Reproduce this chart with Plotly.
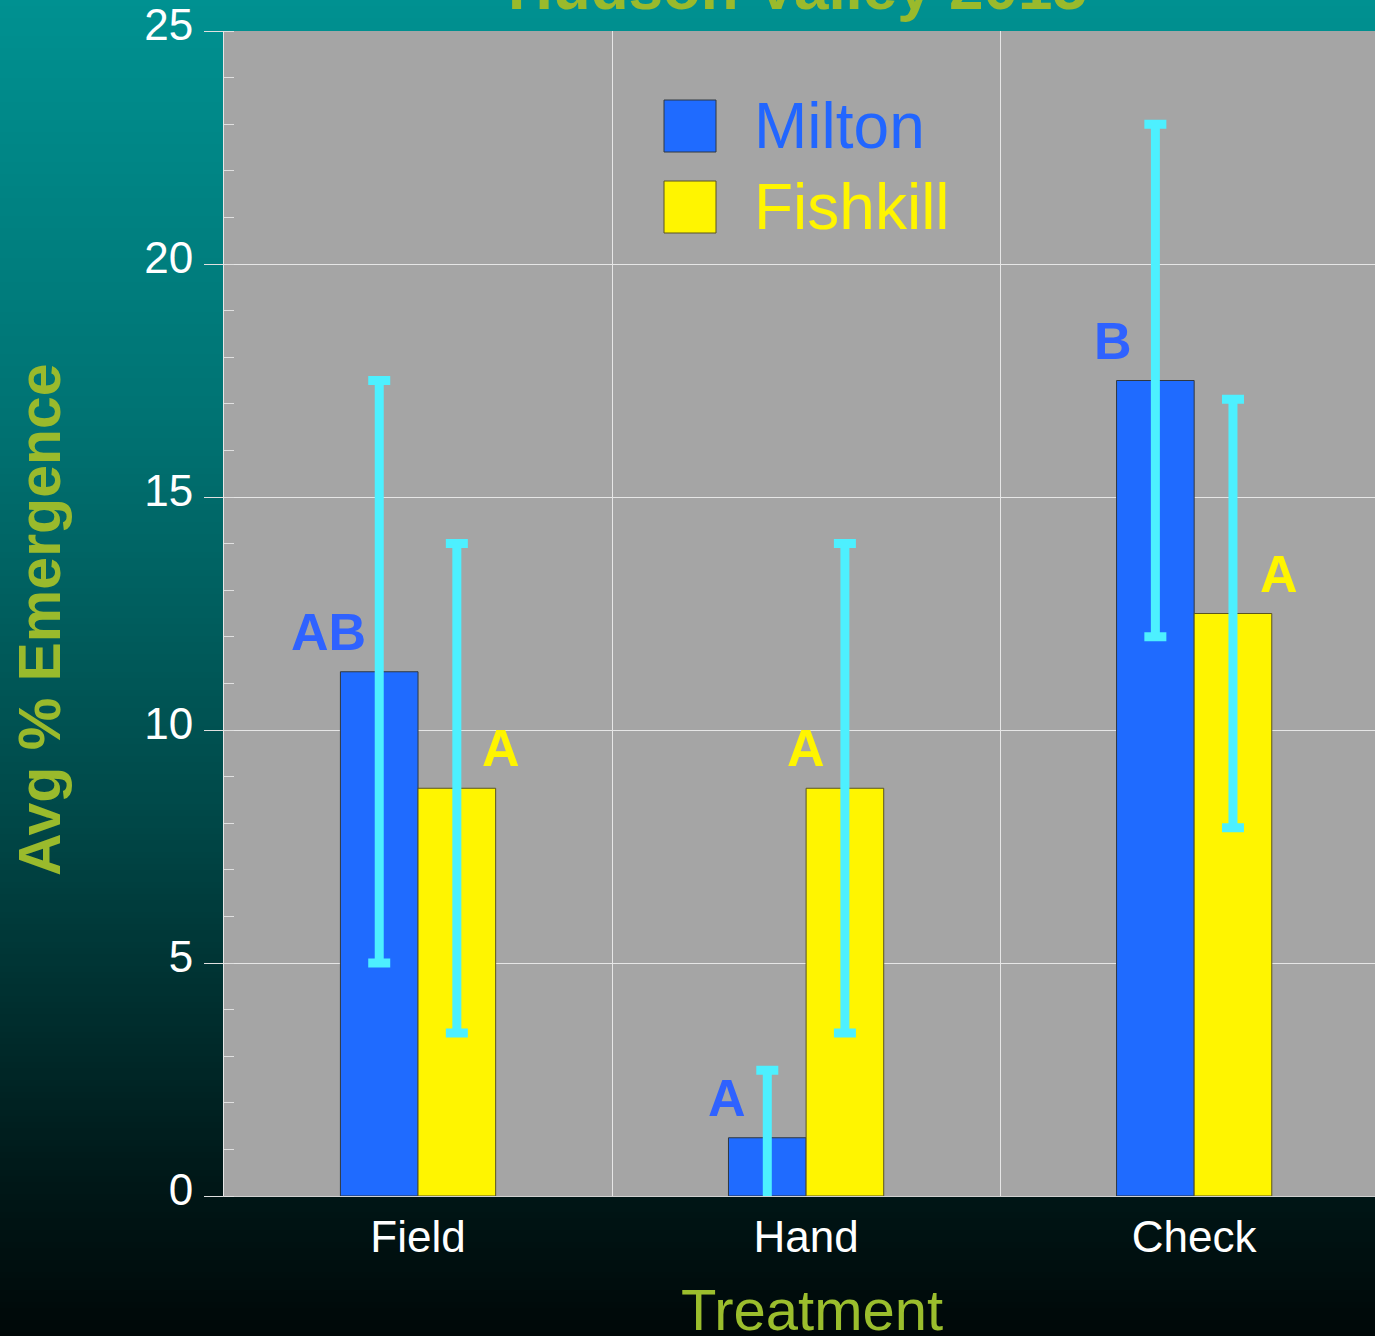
import plotly.graph_objects as go

# ---- data ----
categories = ["Field", "Hand", "Check"]
milton = [11.25, 1.25, 17.5]
milton_err = [6.25, 1.45, 5.5]
fishkill = [8.75, 8.75, 12.5]
fishkill_err = [5.25, 5.25, 4.6]
milton_letters = ["AB", "A", "B"]
fishkill_letters = ["A", "A", "A"]
y_ticks = [0, 5, 10, 15, 20, 25]

W, H = 1375, 1336
ML, MR, MT, MB = 224, 0, 31, 140
PW, PH = W - ML - MR, H - MT - MB


def px_x(p):
    return (p - ML) / PW


def px_y(p):
    return (H - MB - p) / PH


x_pos = list(range(len(categories)))

fig = go.Figure()
fig.add_trace(go.Bar(
    x=x_pos, y=milton, name="Milton",
    marker=dict(color="#1f6bff", line=dict(color="#303840", width=1)),
    error_y=dict(type="data", array=milton_err, color="#4df0ff", thickness=9, width=11),
))
fig.add_trace(go.Bar(
    x=x_pos, y=fishkill, name="Fishkill",
    marker=dict(color="#fff500", line=dict(color="#5a5520", width=1)),
    error_y=dict(type="data", array=fishkill_err, color="#4df0ff", thickness=9, width=11),
))

# ---- background gradient (paper) ----
stops = [(0, (0, 145, 145)), (415, (0, 115, 115)), (815, (0, 72, 72)),
         (1195, (0, 22, 22)), (1336, (0, 8, 8))]


def grad(p):
    for (a, ca), (b, cb) in zip(stops[:-1], stops[1:]):
        if a <= p <= b:
            t = (p - a) / (b - a)
            return tuple(int(round(ca[i] + (cb[i] - ca[i]) * t)) for i in range(3))
    return stops[-1][1]


shapes = []
step = 6
for p in range(0, H, step):
    c = grad(p + step / 2)
    shapes.append(dict(type="rect", xref="paper", yref="paper",
                       x0=px_x(0), x1=px_x(W), y0=px_y(p + step + 1), y1=px_y(p),
                       fillcolor="rgb(%d,%d,%d)" % c, line=dict(width=0), layer="below"))
shapes.append(dict(type="rect", xref="paper", yref="paper", x0=0, x1=1, y0=0, y1=1,
                   fillcolor="#a5a5a5", line=dict(width=0), layer="below"))

# ---- legend (manual, large swatches) ----
shapes.append(dict(type="rect", xref="paper", yref="paper",
                   x0=px_x(664), x1=px_x(716), y0=px_y(152), y1=px_y(100),
                   fillcolor="#1f6bff", line=dict(color="#303840", width=1)))
shapes.append(dict(type="rect", xref="paper", yref="paper",
                   x0=px_x(664), x1=px_x(716), y0=px_y(233), y1=px_y(181),
                   fillcolor="#fff500", line=dict(color="#5a5520", width=1)))

FONT = "Liberation Sans, Arial, sans-serif"
annotations = [
    dict(text="Milton", xref="paper", yref="paper", x=px_x(752), y=px_y(126),
         xanchor="left", yanchor="middle", showarrow=False,
         font=dict(family=FONT, size=64, color="#2266ff")),
    dict(text="Fishkill", xref="paper", yref="paper", x=px_x(752), y=px_y(207),
         xanchor="left", yanchor="middle", showarrow=False,
         font=dict(family=FONT, size=64, color="#fff500")),
    dict(text="<b>Hudson Valley 2015</b>", xref="paper", yref="paper",
         x=px_x(797), y=px_y(24), xanchor="center", yanchor="bottom", showarrow=False,
         font=dict(family=FONT, size=62, color="#9aba2c")),
    dict(text="<b>Avg % Emergence</b>", xref="paper", yref="paper",
         x=px_x(40), y=px_y(620), xanchor="center", yanchor="middle", textangle=-90,
         showarrow=False, font=dict(family=FONT, size=59, color="#9aba2c")),
    dict(text="Treatment", xref="paper", yref="paper",
         x=px_x(812), y=px_y(1309), xanchor="center", yanchor="middle",
         showarrow=False, font=dict(family=FONT, size=58, color="#9bbe2d")),
]

m_off = [-0.232, -0.204, -0.209]
f_off = [0.214, 0.0, 0.219]
for i in range(len(categories)):
    annotations.append(dict(text="<b>%s</b>" % milton_letters[i], x=x_pos[i] + m_off[i],
                            y=milton[i], xref="x", yref="y", yanchor="bottom", yshift=9,
                            showarrow=False, font=dict(family=FONT, size=52, color="#2f62ff")))
    annotations.append(dict(text="<b>%s</b>" % fishkill_letters[i], x=x_pos[i] + f_off[i],
                            y=fishkill[i], xref="x", yref="y", yanchor="bottom", yshift=9,
                            showarrow=False, font=dict(family=FONT, size=52, color="#fff500")))

fig.update_layout(
    width=W, height=H,
    margin=dict(l=ML, r=MR, t=MT, b=MB, pad=0),
    paper_bgcolor="#000808", plot_bgcolor="#a5a5a5",
    barmode="group", bargap=0.6, bargroupgap=0,
    showlegend=False,
    shapes=shapes, annotations=annotations,
    font=dict(family=FONT),
)
fig.update_xaxes(
    range=[-0.5, 2.466], tickvals=x_pos, ticktext=categories,
    showgrid=False, ticks="", ticklabelstandoff=2,
    tickfont=dict(family=FONT, size=44, color="white"),
    showline=True, linecolor="#d0d0d0", linewidth=1, zeroline=False,
    minor=dict(tick0=0.5, dtick=1, showgrid=True, gridcolor="#e6e6e6", gridwidth=1, ticks=""),
)
fig.update_yaxes(
    range=[0, 25], tickvals=y_ticks, ticks="outside", ticklen=19, tickcolor="#e0e0e0",
    tickwidth=1, ticklabelstandoff=2, ticklabelshift=-6,
    tickfont=dict(family=FONT, size=44, color="white"),
    showgrid=True, gridcolor="#e6e6e6", gridwidth=1, zeroline=False,
    showline=True, linecolor="#e6e6e6", linewidth=1,
    minor=dict(dtick=1, ticks="inside", ticklen=10, tickcolor="#e0e0e0", tickwidth=1, showgrid=False),
)

fig.write_html(
    "out.html",
    config={"displayModeBar": False},
    post_script="document.body.style.margin='0';document.body.style.overflow='hidden';",
)
